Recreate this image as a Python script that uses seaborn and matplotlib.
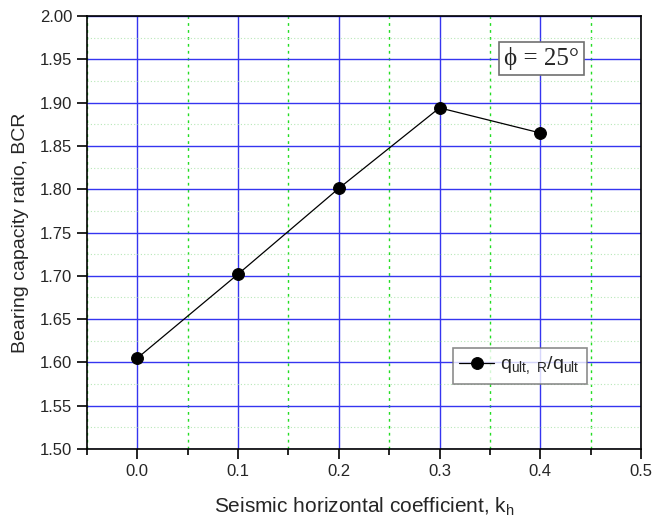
import matplotlib
matplotlib.use("Agg")
import matplotlib.pyplot as plt
from matplotlib.ticker import MultipleLocator, FormatStrFormatter
import seaborn as sns
import pandas as pd

# Bearing capacity ratio vs seismic horizontal coefficient
kh = [0.0, 0.1, 0.2, 0.3, 0.4]
bcr = [1.605, 1.702, 1.801, 1.894, 1.865]

df = pd.DataFrame({"kh": kh, "bcr": bcr})

sns.set_style("white")
plt.rcParams["font.family"] = ["Liberation Sans", "DejaVu Sans"]

fig = plt.figure(figsize=(6.55, 5.18), dpi=100)
ax = fig.add_axes([0.1328, 0.1332, 0.8458, 0.8358])

ax.set_xlim(-0.05, 0.5)
ax.set_ylim(1.50, 2.00)
ax.xaxis.set_major_locator(MultipleLocator(0.1))
ax.xaxis.set_minor_locator(MultipleLocator(0.05))
ax.yaxis.set_major_locator(MultipleLocator(0.05))
ax.yaxis.set_minor_locator(MultipleLocator(0.025))

ax.grid(True, which="major", axis="both", color="#3535f0", lw=1.0, ls="-")
ax.grid(True, which="minor", axis="x", color="#22dd22", lw=1.0, ls=(0, (2, 3)))
ax.grid(True, which="minor", axis="y", color="#b8e8b8", lw=0.8, ls=(0, (1, 2)))
ax.set_axisbelow(True)

sns.lineplot(data=df, x="kh", y="bcr", ax=ax, color="black", lw=0.9,
             marker="o", markersize=8.5, markeredgecolor="black",
             label=r"q$_{\mathregular{ult,\ R}}$/q$_{\mathregular{ult}}$")

for s in ax.spines.values():
    s.set_color("black")
    s.set_linewidth(1.2)

ax.tick_params(axis="both", which="major", direction="out", length=7, width=1.2,
               labelsize=12, color="black", bottom=True, left=True)
ax.tick_params(axis="x", which="minor", direction="out", length=4, width=1.2,
               bottom=True, color="black")
ax.tick_params(axis="y", which="minor", left=False)
ax.xaxis.set_major_formatter(FormatStrFormatter("%.1f"))
ax.yaxis.set_major_formatter(FormatStrFormatter("%.2f"))

ax.set_xlabel(r"Seismic horizontal coefficient, k$_{\mathregular{h}}$", fontsize=15, labelpad=12)
ax.set_ylabel("Bearing capacity ratio, BCR", fontsize=14, labelpad=8)

leg = ax.legend(loc="upper left", bbox_to_anchor=(0.66, 0.233), borderaxespad=0,
                fontsize=14, frameon=True, fancybox=False, edgecolor="#707070",
                handlelength=1.8, handletextpad=0.3, borderpad=0.35)
leg.get_frame().set_linewidth(1.2)

ax.text(0.752, 0.903, "\u03d5 = 25\u00b0", transform=ax.transAxes,
        fontsize=18, family=["Liberation Serif", "DejaVu Serif"],
        ha="left", va="center",
        bbox=dict(boxstyle="square,pad=0.2", fc="white", ec="#707070", lw=1.2))

fig.savefig("out.png", dpi=100)
